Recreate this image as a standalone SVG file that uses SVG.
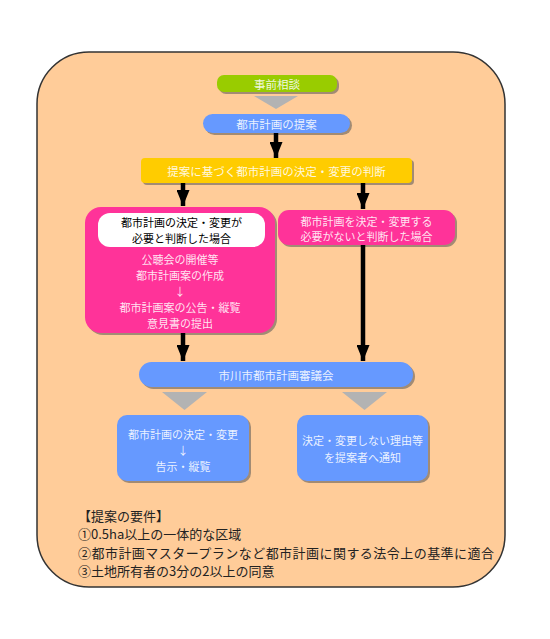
<svg xmlns="http://www.w3.org/2000/svg" width="550" height="639" viewBox="0 0 550 639">
<style>
text{font-family:"Noto Sans CJK JP","Noto Sans CJK SC",sans-serif;text-anchor:middle;dominant-baseline:central}
.w{fill:#ffffff;fill-opacity:0.88;font-size:11px}
.w1{fill:#ffffff;fill-opacity:0.88;font-size:11.5px}
.b{fill:#000000;font-size:11px}
.n{fill:#222222;font-size:13px;text-anchor:start}
.sh{fill:#555555;fill-opacity:0.55}
.tri{fill:#b3b3b3}
</style>
<defs>
<marker id="ah" viewBox="0 0 16 13" refX="16" refY="6.5" markerWidth="16" markerHeight="13" markerUnits="userSpaceOnUse" orient="auto">
<path d="M0,0 L16,6.5 L0,13 Z" fill="#000"/>
</marker>
</defs>
<rect width="550" height="639" fill="#ffffff"/>
<rect id="frame" x="37" y="52" width="468" height="535" rx="52" ry="52" fill="#ffcc99" stroke="#333333" stroke-width="1.5"/>

<g id="n1">
<rect class="sh" x="219" y="77" width="120" height="17" rx="7"/>
<rect x="217" y="75" width="120" height="17" rx="7" fill="#99cc00"/>
<text class="w1" x="277" y="83.5">事前相談</text>
</g>
<polygon class="tri" points="254,96 298,96 276,109"/>
<g id="n2">
<rect class="sh" x="205" y="116" width="147" height="19" rx="9.5"/>
<rect x="203" y="114" width="147" height="19" rx="9.5" fill="#6699ff"/>
<text class="w1" x="276.5" y="123.5">都市計画の提案</text>
</g>
<g id="n3">
<rect class="sh" x="143" y="160" width="271" height="25" rx="4"/>
<rect x="141" y="158" width="271" height="25" rx="4" fill="#ffcc00"/>
<text class="w1" x="276.5" y="170.5">提案に基づく都市計画の決定・変更の判断</text>
</g>
<g id="n4">
<rect class="sh" x="87" y="209" width="190" height="126" rx="16"/>
<rect x="85" y="207" width="190" height="126" rx="16" fill="#ff3399"/>
<rect x="98" y="213" width="167" height="34" rx="12" fill="#ffffff"/>
<text class="b" x="181.5" y="222">都市計画の決定・変更が</text>
<text class="b" x="181.5" y="238">必要と判断した場合</text>
<text class="w" x="180" y="259">公聴会の開催等</text>
<text class="w" x="180" y="275">都市計画案の作成</text>
<text class="w" x="180" y="291">↓</text>
<text class="w" x="180" y="307">都市計画案の公告・縦覧</text>
<text class="w" x="180" y="323">意見書の提出</text>
</g>
<g id="n5">
<rect class="sh" x="280" y="212" width="177" height="35" rx="11"/>
<rect x="278" y="210" width="177" height="35" rx="11" fill="#ff3399"/>
<text class="w" x="366.5" y="221">都市計画を決定・変更する</text>
<text class="w" x="366.5" y="236">必要がないと判断した場合</text>
</g>
<g id="n6">
<rect class="sh" x="141" y="364" width="274" height="25" rx="12.5"/>
<rect x="139" y="362" width="274" height="25" rx="12.5" fill="#6699ff"/>
<text class="w1" x="276" y="374.5">市川市都市計画審議会</text>
</g>
<polygon class="tri" points="162,392 207,392 184.5,410"/>
<polygon class="tri" points="342,392 387,392 364.5,410"/>
<g id="n7">
<rect class="sh" x="119" y="417" width="132" height="66" rx="10"/>
<rect x="117" y="415" width="132" height="66" rx="10" fill="#6699ff"/>
<text class="w" x="183" y="434">都市計画の決定・変更</text>
<text class="w" x="183" y="450">↓</text>
<text class="w" x="183" y="466">告示・縦覧</text>
</g>
<g id="n8">
<rect class="sh" x="299" y="417" width="131" height="66" rx="10"/>
<rect x="297" y="415" width="131" height="66" rx="10" fill="#6699ff"/>
<text class="w" x="362.5" y="440">決定・変更しない理由等</text>
<text class="w" x="362.5" y="456.5">を提案者へ通知</text>
</g>

<g id="connectors" stroke="#000" stroke-width="4.5" fill="none" marker-end="url(#ah)">
<line x1="276" y1="133" x2="276" y2="158"/>
<line x1="183" y1="183" x2="183" y2="206"/>
<line x1="363" y1="183" x2="363" y2="209"/>
<line x1="183" y1="333" x2="183" y2="361"/>
<line x1="363" y1="245" x2="363" y2="361"/>
</g>

<g id="notes">
<text class="n" x="78" y="515">【提案の要件】</text>
<text class="n" x="78" y="533.5">①0.5ha以上の一体的な区域</text>
<text class="n" x="78" y="552" textLength="416" lengthAdjust="spacing">②都市計画マスタープランなど都市計画に関する法令上の基準に適合</text>
<text class="n" x="78" y="570">③土地所有者の3分の2以上の同意</text>
</g>
</svg>
